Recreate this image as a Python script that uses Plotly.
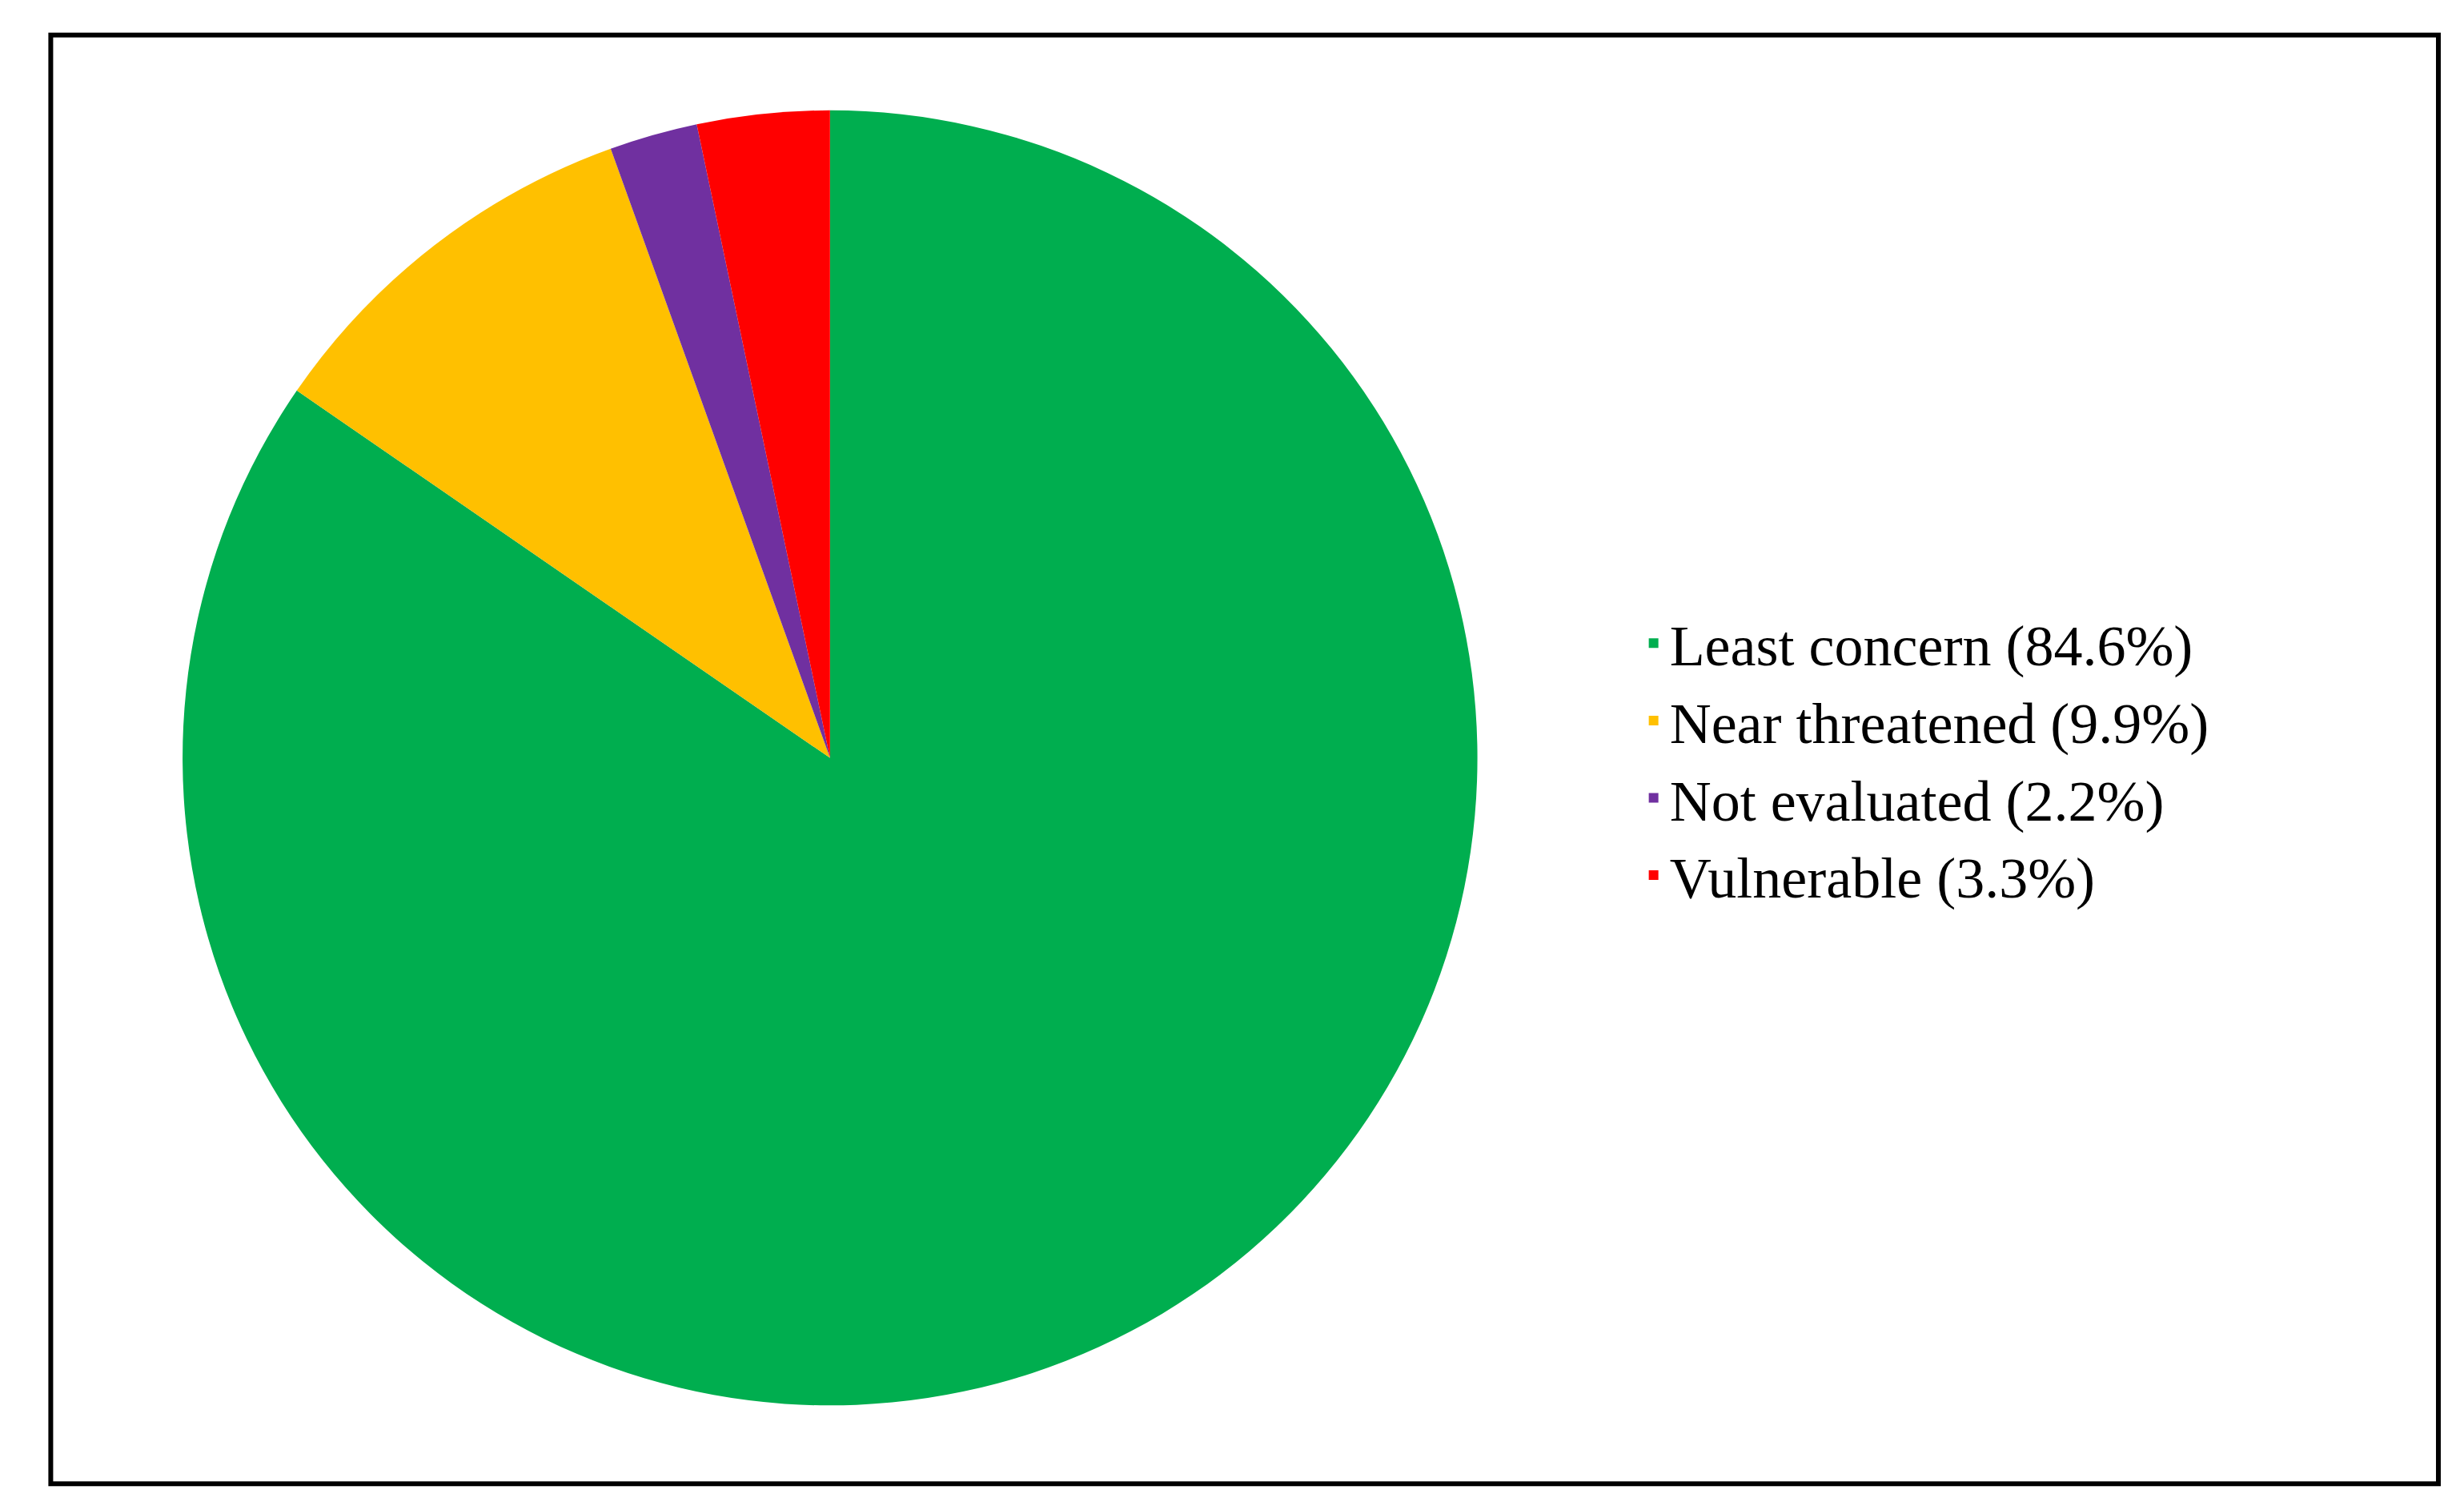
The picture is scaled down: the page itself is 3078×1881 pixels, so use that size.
import plotly.graph_objects as go

labels = ["Least concern (84.6%)", "Near threatened (9.9%)", "Not evaluated (2.2%)", "Vulnerable (3.3%)"]
values = [84.6, 9.9, 2.2, 3.3]
colors = ["#00AE4F", "#FFC000", "#7030A0", "#FF0000"]

fig = go.Figure(go.Pie(
    labels=labels, values=values, sort=False, direction="clockwise", rotation=0,
    marker=dict(colors=colors, line=dict(width=0)), textinfo="none", hoverinfo="label",
    domain=dict(x=[0.0715, 0.597], y=[0.071, 0.931]),
))
fig.update_layout(
    width=3078, height=1881, margin=dict(l=0, r=0, t=0, b=0),
    paper_bgcolor="white", plot_bgcolor="white",
    font=dict(family="Liberation Serif", size=72, color="black"),
    legend=dict(x=0.662, y=0.5, xanchor="left", yanchor="middle",
                tracegroupgap=0, itemwidth=30, font=dict(size=72)),
    shapes=[dict(type="rect", xref="paper", yref="paper", x0=0.018, x1=0.987, y0=0.019, y1=0.981,
                 line=dict(color="black", width=6))],
)
fig.write_html("out.html")
